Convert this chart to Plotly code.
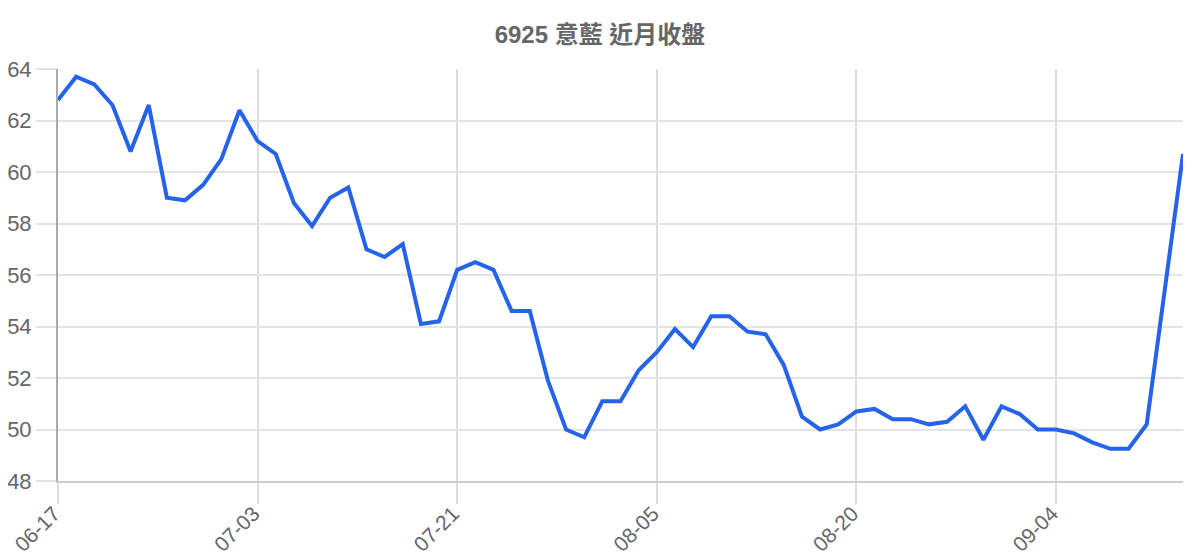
import plotly.graph_objects as go

# 交易日 (MM-DD)
dates = [
    '06-17', '06-18', '06-19', '06-23', '06-24', '06-25', '06-26', '06-27', '06-30', '07-01', '07-02',
    '07-03', '07-04', '07-07', '07-08', '07-09', '07-10', '07-11', '07-14', '07-15', '07-16', '07-17',
    '07-21', '07-22', '07-23', '07-24', '07-25', '07-28', '07-29', '07-30', '07-31', '08-01', '08-04',
    '08-05', '08-06', '08-07', '08-08', '08-11', '08-12', '08-13', '08-14', '08-15', '08-18', '08-19',
    '08-20', '08-21', '08-22', '08-25', '08-26', '08-27', '08-28', '08-29', '09-01', '09-02', '09-03',
    '09-04', '09-05', '09-08', '09-09', '09-10', '09-11', '09-12', '09-15',
]

# 收盤價
closes = [
    62.8, 63.7, 63.4, 62.6, 60.8, 62.6, 59.0, 58.9, 59.5, 60.5,
    62.4, 61.2, 60.7, 58.8, 57.9, 59.0, 59.4, 57.0, 56.7, 57.2,
    54.1, 54.2, 56.2, 56.5, 56.2, 54.6, 54.6, 51.9, 50.0, 49.7,
    51.1, 51.1, 52.3, 53.0, 53.9, 53.2, 54.4, 54.4, 53.8, 53.7,
    52.5, 50.5, 50.0, 50.2, 50.7, 50.8, 50.4, 50.4, 50.2, 50.3,
    50.9, 49.6, 50.9, 50.6, 50.0, 50.0, 49.85, 49.5, 49.25, 49.25,
    50.2, 55.5, 60.7,
]

x_ticks = ['06-17', '07-03', '07-21', '08-05', '08-20', '09-04']
y_ticks = [48, 50, 52, 54, 56, 58, 60, 62, 64]

title = '6925 意藍 近月收盤'
font_family = 'Liberation Sans, Arial, Noto Sans CJK TC, sans-serif'

fig = go.Figure(go.Scatter(
    x=dates, y=closes, mode='lines',
    line=dict(color='#2563eb', width=4),
    hoverinfo='x+y',
))

# the page body adds an 8px offset, so margins are shifted by 8
fig.update_layout(
    width=1200, height=560,
    margin=dict(l=50, r=25, t=61, b=87),
    plot_bgcolor='white', paper_bgcolor='white',
    showlegend=False,
    font=dict(family=font_family, color='#666666'),
    title=dict(text=f'<b>{title}</b>', x=(600 - 8) / 1200, xanchor='center',
               y=(560 - 27) / 560, yanchor='middle', yref='container',
               font=dict(size=24, color='#666666')),
)

fig.update_xaxes(
    type='category', range=[0, len(dates) - 1], automargin=False,
    tickmode='array', tickvals=x_ticks, ticktext=x_ticks,
    tickangle=-45, tickfont=dict(size=21, color='#666666'),
    ticklabelstandoff=-11, ticklabelshift=-4,
    ticks='outside', ticklen=21, tickcolor='#dddddd', tickwidth=1.5,
    showgrid=True, gridcolor='#dddddd', gridwidth=1.5,
    showline=True, linecolor='#cccccc', linewidth=2,
    zeroline=False,
)

fig.update_yaxes(
    range=[48, 64], tickmode='array', tickvals=y_ticks, automargin=False,
    tickfont=dict(size=22, color='#666666'),
    ticks='outside', ticklen=20, tickcolor='#e4e4e4', tickwidth=1.5,
    showgrid=True, gridcolor='#e4e4e4', gridwidth=1.5,
    showline=True, linecolor='#aaaaaa', linewidth=2,
    zeroline=False,
)

fig.write_html('out.html')
